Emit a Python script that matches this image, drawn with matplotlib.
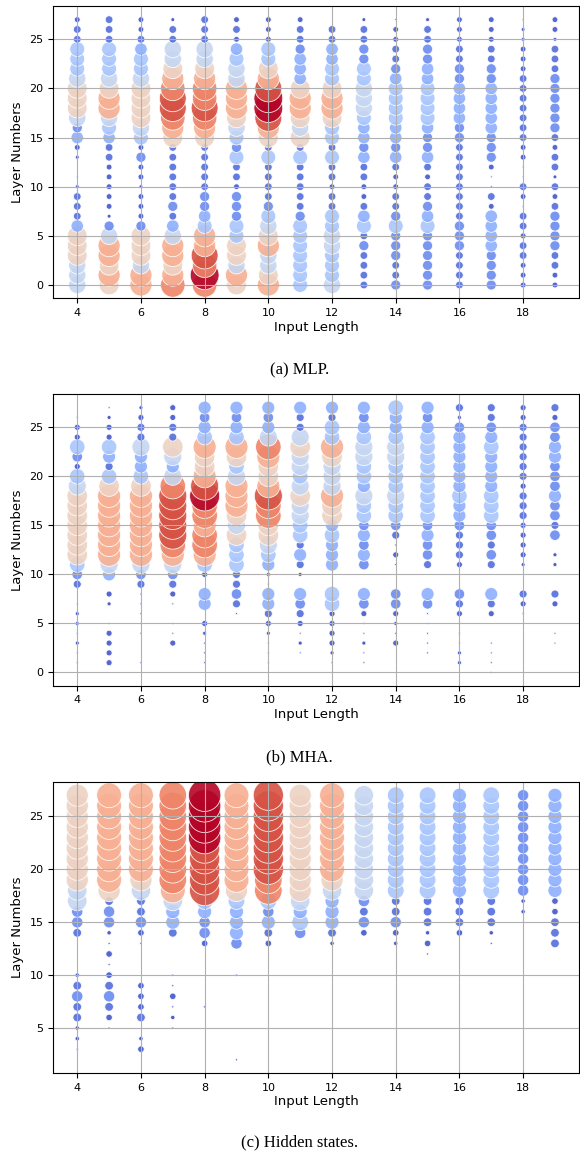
import numpy as np
import matplotlib.pyplot as plt

input_lengths = np.arange(4, 20)
layer_ids = np.arange(28)

# one string per input length (4..19); character i = layer i, '-' = no point
mlp_levels = [
    "777888533310-125478887666332",
    "8989974122222335679987666333",
    "9978884222122426788887665322",
    "a9899753433333389abba9877331",
    "acab9965443333389abaa9877333",
    "8978866444233646789997765232",
    "98779876433336389bccb9866222",
    "6666666433333638789985554332",
    "766677663323363668998665533-",
    "3333436532233545567776644331",
    "4334446433223545566665433220",
    "4444446543323544566665544331",
    "3333444333333334455554433222",
    "4444555523002444555554433222",
    "2223323302300223333333222110",
    "2233444432313323444444333122",
]

mha_levels = [
    "-0010110-346888888876246220-",
    "-22220-12-579999999863562210",
    "-0--000003479999999865573321",
    "---200-023479abbbbba75783322",
    "-00012-55-269aa9aacb98896545",
    "------0343366687899976896545",
    "-000123550156788aab9889a7545",
    "--0102345-135366778767787335",
    "001222266--55565889777896635",
    "-00100245--45454667566776545",
    "---201244--02034667666776556",
    "--0000045--34454666666666545",
    "-11000234--23334556555555413",
    "0000--235--34344666555565433",
    "------023--12222333233333322",
    "---00--23--11-43445444554423",
]

hidden_levels = [
    "---01133431---34477888888888",
    "-----02343202014438999999999",
    "---21-3222---024337899999999",
    "-----010200---35579aaaaaaaaa",
    "-------0-----24456bbbbbccccc",
    "--0-------0--455568999999999",
    "-------------23546aabbbbbbbb",
    "--------------46578888888888",
    "-------------135557899999999",
    "--------------24347777777777",
    "-------------124336666666666",
    "------------0213336666666666",
    "--------------23335555555555",
    "-------------013336666666666",
    "----------------114444444444",
    "-------------333225555555555",
]

captions = ["(a) MLP.", "(b) MHA.", "(c) Hidden states."]

# level code -> colormap position and marker diameter (pixels)
level_codes = "0123456789abc"
level_color = [0.0, 0.0, 0.03, 0.08, 0.15, 0.25, 0.33, 0.42, 0.57, 0.69, 0.8, 0.9, 1.0]
level_diam = [2, 4, 6, 8, 10.5, 13, 15.5, 18, 20.5, 23, 25.5, 28, 30]
panel_scale = [0.96, 1.0, 1.08]

fig = plt.figure(figsize=(5.8, 11.56), dpi=100)

boxes = [
    [0.092, 0.742, 0.906, 0.2525],
    [0.092, 0.4068, 0.906, 0.252],
    [0.092, 0.0718, 0.906, 0.2517],
]
caption_y = [0.680, 0.345, 0.012]

for levels, caption, box, cy, scale in zip(
        [mlp_levels, mha_levels, hidden_levels], captions, boxes, caption_y, panel_scale):
    ax = fig.add_axes(box)
    xs, ys, cs, ss = [], [], [], []
    for x, col in zip(input_lengths, levels):
        for layer, ch in zip(layer_ids, col):
            if ch == '-':
                continue
            i = level_codes.index(ch)
            xs.append(x)
            ys.append(layer)
            cs.append(level_color[i])
            ss.append((level_diam[i] * scale * 0.72) ** 2)
    ax.scatter(xs, ys, s=ss, c=cs, cmap='coolwarm', vmin=0, vmax=1,
               alpha=0.9, edgecolors='white', linewidths=0.6)
    ax.grid(True)
    ax.set_xticks(np.arange(4, 19, 2))
    ax.tick_params(labelsize=8)
    ax.set_xlabel('Input Length', fontsize=9.5, labelpad=2)
    ax.set_ylabel('Layer Numbers', fontsize=9.5)
    fig.text(0.517, cy, caption, ha='center', va='center',
             family='Liberation Serif', fontsize=12)

fig.savefig('out.png')
